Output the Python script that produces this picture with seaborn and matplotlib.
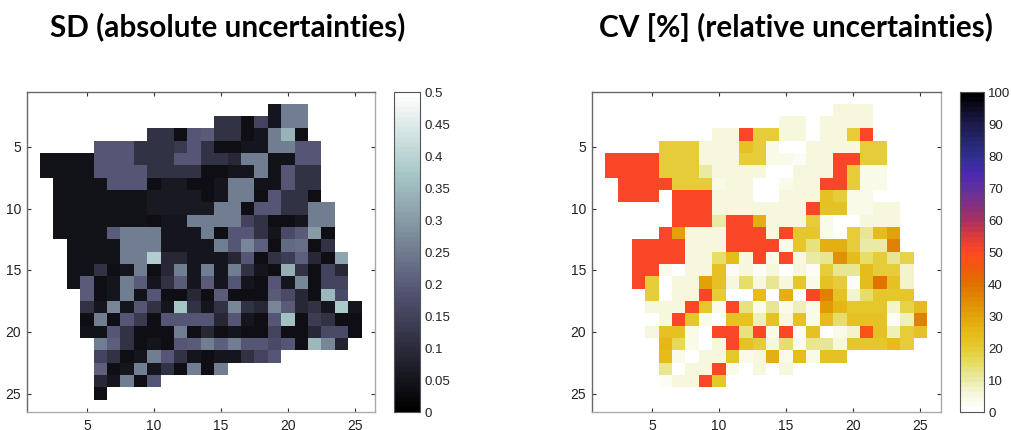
import numpy as np
import pandas as pd
import seaborn as sns
import matplotlib
matplotlib.use("Agg")
import matplotlib.pyplot as plt
from matplotlib.colors import LinearSegmentedColormap

sns.set_theme(style="white")
plt.rcParams["font.family"] = ["Liberation Sans", "DejaVu Sans"]

grid_labels = list(range(1, 27))
axis_ticks = [5, 10, 15, 20, 25]
sd_ticks = [0, 0.05, 0.1, 0.15, 0.2, 0.25, 0.3, 0.35, 0.4, 0.45, 0.5]
sd_tick_labels = ["0", "0.05", "0.1", "0.15", "0.2", "0.25", "0.3", "0.35", "0.4", "0.45", "0.5"]
cv_ticks = [0, 10, 20, 30, 40, 50, 60, 70, 80, 90, 100]

# row number -> first column that has data
sd_rows = [2, 3, 4, 5, 6, 7, 8, 9, 10, 11, 12, 13, 14, 15, 16, 17, 18, 19, 20, 21, 22, 23, 24, 25]
sd_first_col = [19, 15, 10, 6, 2, 2, 3, 3, 3, 3, 3, 4, 4, 4, 4, 5, 5, 5, 5, 6, 6, 6, 6, 6]
sd_values = [
    [.05, .25, .25],
    [.115, .115, .035, .15, .05, .25, .25],
    [.115, .115, .035, .19, .2, .115, .115, .035, .05, .25, .34, .035],
    [.19, .19, .19, .115, .115, .115, .13, .19, .115, .035, .035, .05, .05, .25, .25, .19, .19],
    [.045, .045, .045, .045, .19, .19, .19, .115, .115, .115, .19, .19, .115, .115, .09, .25, .25, .04, .04, .19, .19],
    [.045, .045, .045, .045, .19, .19, .19, .19, .115, .115, .115, .115, .035, .035, .05, .05, .25, .04, .19, .115, .115],
    [.045, .045, .045, .045, .19, .19, .19, .035, .055, .055, .035, .035, .05, .25, .25, .04, .04, .19, .115, .115],
    [.045, .045, .045, .045, .045, .045, .045, .055, .055, .055, .055, .035, .05, .25, .25, .035, .19, .115, .115, .035],
    [.045, .045, .045, .045, .045, .045, .045, .055, .055, .055, .055, .055, .25, .25, .035, .19, .19, .115, .115, .25, .25],
    [.045, .045, .045, .045, .045, .045, .045, .035, .05, .05, .25, .25, .25, .25, .15, .115, .035, .035, .05, .25, .25],
    [.045, .045, .045, .045, .2, .25, .25, .25, .05, .05, .05, .25, .035, .19, .19, .115, .05, .17, .2, .3, .035],
    [.045, .045, .045, .045, .25, .25, .25, .05, .05, .05, .05, .25, .19, .27, .21, .035, .22, .23, .035, .115],
    [.045, .045, .045, .045, .25, .25, .39, .09, .09, .05, .05, .05, .09, .19, .035, .115, .14, .21, .09, .035, .32],
    [.045, .045, .115, .035, .05, .25, .035, .09, .25, .05, .25, .05, .25, .115, .05, .035, .33, .115, .035, .15, .09],
    [.045, .2, .035, .05, .25, .2, .05, .115, .2, .05, .2, .05, .19, .05, .035, .19, .05, .27, .035, .15, .15],
    [.2, .035, .05, .25, .04, .19, .035, .035, .09, .035, .2, .035, .035, .035, .2, .17, .09, .035, .35, .17],
    [.115, .05, .27, .05, .19, .115, .05, .37, .115, .05, .115, .27, .115, .09, .27, .2, .09, .115, .05, .38, .05],
    [.035, .25, .035, .19, .13, .035, .19, .19, .19, .19, .09, .19, .05, .035, .19, .36, .035, .14, .115, .035, .035],
    [.045, .045, .19, .115, .035, .035, .035, .25, .035, .09, .035, .05, .035, .035, .15, .035, .035, .09, .17, .17, .035],
    [.25, .21, .115, .035, .05, .035, .19, .2, .25, .21, .25, .19, .19, .17, .19, .035, .35, .27, .08],
    [.15, .115, .035, .05, .25, .19, .115, .05, .035, .05, .05, .115, .15, .19],
    [.21, .035, .05, .25, .05, .115, .035, .25, .035, .25],
    [.09, .05, .25, .035, .19],
    [.035],
]

cv_rows = [2, 3, 4, 5, 6, 7, 8, 9, 10, 11, 12, 13, 14, 15, 16, 17, 18, 19, 20, 21, 22, 23, 24]
cv_first_col = [19, 15, 10, 6, 2, 2, 3, 3, 7, 7, 6, 4, 4, 4, 4, 5, 5, 6, 5, 6, 6, 6, 6]
cv_values = [
    [6, 6, 6],
    [6, 6, 0, 6, 6, 6, 6],
    [6, 6, 50, 20, 20, 6, 6, 0, 6, 6, 20, 50],
    [20, 20, 20, 6, 6, 6, 23, 20, 4, 0, 0, 6, 6, 6, 6, 20, 20],
    [50, 50, 50, 50, 20, 20, 20, 6, 6, 6, 20, 20, 4, 4, 2, 6, 6, 50, 50, 20, 20],
    [50, 50, 50, 50, 20, 20, 20, 10, 6, 6, 6, 6, 0, 0, 6, 6, 6, 50, 20, 4, 4],
    [50, 50, 50, 50, 20, 20, 20, 4, 6, 6, 0, 0, 4, 6, 6, 50, 50, 20, 4, 4],
    [50, 50, 50, 0, 50, 50, 50, 6, 6, 6, 0, 0, 6, 6, 6, 23, 20, 4, 4],
    [50, 50, 50, 6, 6, 6, 6, 6, 6, 6, 50, 23, 23, 4, 4, 6, 6],
    [50, 50, 50, 10, 50, 50, 27, 6, 6, 6, 20, 4, 0, 0, 6, 6, 6],
    [50, 31, 6, 6, 6, 50, 50, 50, 6, 50, 21, 21, 4, 0, 20, 11, 24, 31],
    [50, 50, 50, 50, 6, 6, 6, 50, 50, 50, 50, 4, 21, 13, 28, 28, 20, 10, 10, 37],
    [50, 50, 50, 50, 6, 6, 15, 24, 6, 50, 4, 50, 5, 10, 11, 34, 24, 15, 19, 12, 18],
    [50, 50, 4, 0, 6, 6, 23, 3, 6, 3, 6, 0, 6, 3, 20, 12, 12, 24, 20, 20, 7],
    [50, 20, 0, 6, 6, 31, 23, 6, 15, 6, 11, 6, 21, 4, 23, 19, 2, 24, 40, 23, 7],
    [20, 0, 6, 6, 50, 20, 0, 0, 24, 0, 28, 0, 50, 37, 23, 7, 15, 21, 21, 21],
    [5, 6, 6, 50, 21, 4, 50, 13, 4, 11, 4, 8, 4, 32, 26, 21, 21, 21, 7, 18, 24],
    [6, 50, 21, 4, 0, 22, 22, 8, 23, 5, 23, 4, 24, 15, 23, 23, 23, 3, 8, 37],
    [6, 23, 23, 4, 0, 50, 50, 14, 50, 4, 50, 2, 23, 0, 4, 7, 47, 23, 9, 20, 23],
    [25, 16, 4, 0, 6, 50, 23, 20, 6, 15, 4, 11, 11, 6, 21, 21, 21, 24, 20],
    [24, 4, 0, 6, 6, 21, 4, 6, 27, 4, 24, 4, 22, 22],
    [11, 0, 6, 6, 50, 4, 0, 6, 0, 5],
    [3, 6, 6, 50, 21],
]


def build_grid(rows, first_col, values):
    grid = pd.DataFrame(np.nan, index=grid_labels, columns=grid_labels)
    for r, c, vals in zip(rows, first_col, values):
        grid.loc[r, c:c + len(vals) - 1] = vals
    return grid


sd_grid = build_grid(sd_rows, sd_first_col, sd_values)
cv_grid = build_grid(cv_rows, cv_first_col, cv_values)

sd_cmap = plt.get_cmap("bone", 64)
cv_cmap = LinearSegmentedColormap.from_list(
    "cv",
    [(0, "#ffffff"), (.05, "#f7f7dc"), (.10, "#e9e9a0"), (.15, "#e5dc60"), (.20, "#e5c82e"),
     (.25, "#e6b818"), (.30, "#e2a208"), (.40, "#e07000"), (.45, "#f05a10"), (.50, "#ff4822"),
     (.55, "#d83c3c"), (.60, "#a83060"), (.70, "#6030a0"), (.75, "#4a28b0"), (.80, "#303090"),
     (.90, "#1c1c50"), (1, "#000000")],
    N=64,
)

fig = plt.figure(figsize=(10.11, 4.31), dpi=100)
W, H = 1011.0, 431.0


def box(x0, y0, x1, y1):
    return [x0 / W, 1 - y1 / H, (x1 - x0) / W, (y1 - y0) / H]


def draw_panel(grid, cmap, vmin, vmax, ax_box, cax_box, cticks, clabels, title, title_x):
    ax = fig.add_axes(box(*ax_box))
    cax = fig.add_axes(box(*cax_box))
    sns.heatmap(grid, ax=ax, cbar_ax=cax, cmap=cmap, vmin=vmin, vmax=vmax,
                cbar_kws={"ticks": cticks}, square=False)
    ax.set_xlabel("")
    ax.set_ylabel("")
    ax.set_xticks([t - 0.5 for t in axis_ticks], axis_ticks, rotation=0)
    ax.set_yticks([t - 0.5 for t in axis_ticks], axis_ticks, rotation=0)
    ax.tick_params(direction="in", length=3, width=0.8, color="#333333", labelsize=10,
                   labelcolor="#222222", top=True, right=True, bottom=True, left=True, pad=4)
    for name, sp in ax.spines.items():
        sp.set_visible(True)
        sp.set_linewidth(1.0)
        sp.set_color("#666666" if name in ("top", "left") else "#aaaaaa")

    cbar = ax.collections[0].colorbar
    cbar.set_ticklabels(clabels)
    cax.tick_params(direction="in", length=2.5, width=0.8, color="#111111", labelsize=9.5,
                    labelcolor="#222222", left=True, right=True, pad=3)
    cbar.outline.set_visible(True)
    cbar.outline.set_edgecolor("#555555")
    cbar.outline.set_linewidth(0.8)
    fig.text(title_x / W, 1 - 27 / H, title, family="Lato", weight="bold", fontsize=21.4,
             color="black", ha="center", va="center")


draw_panel(sd_grid, sd_cmap, 0, 0.5, (26.5, 92.5, 375, 413), (394, 92.5, 420, 413),
           sd_ticks, sd_tick_labels, "SD (absolute uncertainties)", 227.5)
draw_panel(cv_grid, cv_cmap, 0, 100, (591.5, 92.5, 940.5, 413), (959.5, 92.5, 984, 413),
           cv_ticks, [str(t) for t in cv_ticks], "CV [%] (relative uncertainties)", 795.5)

fig.savefig("out.png", dpi=100)
